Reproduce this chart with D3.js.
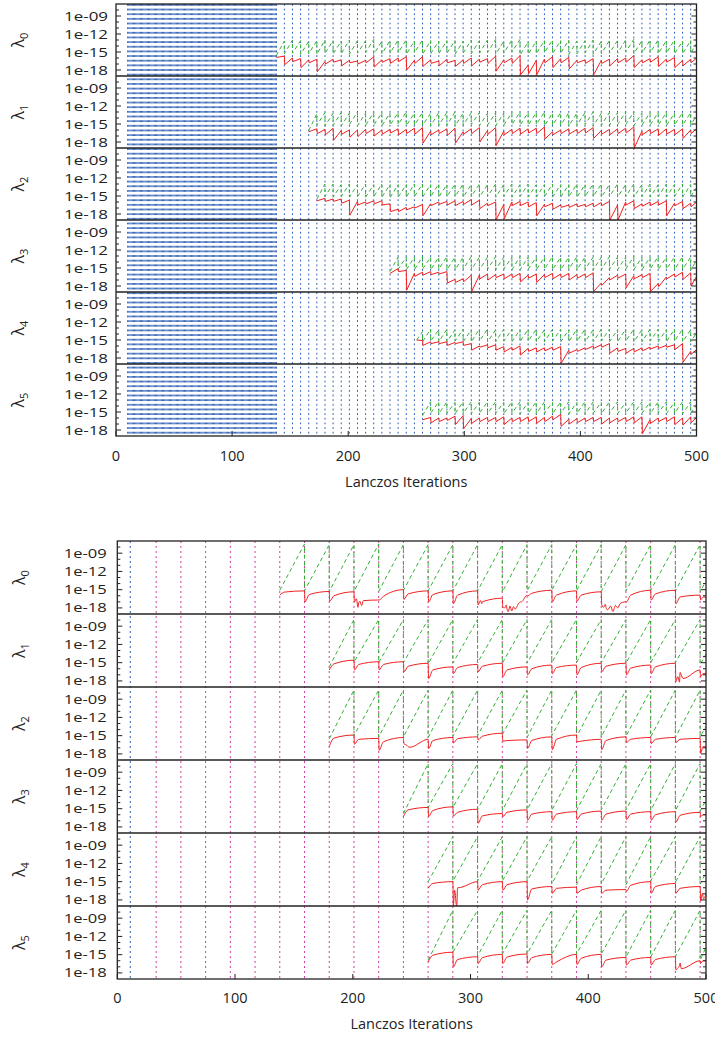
<!DOCTYPE html>
<html><head><meta charset="utf-8">
<script src="https://cdn.jsdelivr.net/npm/d3@7"></script>
<style>body{margin:0;background:#fff}svg{display:block}</style>
</head><body>
<script>
// ---------- data ----------
const panelSubs = ["0","1","2","3","4","5"];
const yTickDecades = [-9,-12,-15,-18];
const yTickLabels = ["1e-09","1e-12","1e-15","1e-18"];
const xTickValues = [0,100,200,300,400,500];
const xTitle = "Lanczos Iterations";

// top group: restart lines every 7 iterations, dense lines every iteration 10..138
const topDenseFrom = 10, topDenseTo = 138;
const topRestarts = [138,145,152,159,166,173,180,187,194,201,208,215,222,229,236,243,250,257,264,271,278,285,292,299,306,313,320,327,334,341,348,355,362,369,376,383,390,397,404,411,418,425,432,439,446,453,460,467,474,481,488,495];
const topStarts = [138,166,173,236,259,264];

// bottom group
const botBlueLines = [11];
const botMagentaLines = [33,54,75,96,117,138,159,180,201,222,243,264,285,306,327,348,369,390,411,432,453,474,495];
const botRestarts = [138,159,180,201,222,243,264,285,306,327,348,369,390,411,432,453,474,495];
const botStarts = [138,180,180,243,264,264];

// top red: per cycle [log10 value after restart, log10 value at end of cycle]
const tRed0 = [[-15.9,-15.7],[-17.1,-16.0],[-16.6,-16.1],[-17.6,-16.3],[-16.8,-16.2],[-18.3,-16.6],[-17.0,-16.2],[-16.7,-16.3],[-17.3,-16.4],[-16.8,-16.5],
[-17.0,-16.4],[-16.8,-15.8],[-17.5,-16.3],[-16.7,-16.1],[-16.9,-16.0],[-16.6,-15.8],[-18.0,-16.4],[-16.9,-15.8],[-17.4,-16.3],[-16.9,-16.5],
[-17.3,-16.2],[-16.8,-16.4],[-17.4,-16.3],[-16.9,-16.0],[-17.3,-16.2],[-16.7,-16.1],[-16.9,-15.7],[-18.2,-16.3],[-16.8,-16.0],[-16.9,-15.6],
[-18.8,-17.2],[-18.6,-16.4],[-18.8,-16.2],[-16.8,-15.8],[-17.6,-16.1],[-16.8,-15.9],[-17.8,-16.4],[-16.8,-16.3],[-16.9,-16.1],[-18.8,-16.4],
[-16.9,-16.2],[-17.3,-16.1],[-16.8,-16.0],[-16.7,-15.6],[-17.6,-16.3],[-16.8,-16.1],[-16.7,-15.8],[-17.4,-16.2],[-16.7,-15.9],[-17.6,-16.4],
[-17.3,-16.2],[-16.8,-16.0]];
const tRed1 = [[-16.3,-15.8],[-16.6,-15.9],[-16.8,-15.7],[-17.7,-16.1],[-16.7,-16.0],[-17.2,-16.0],[-17.1,-15.9],[-16.6,-15.8],[-17.0,-16.0],[-16.7,-15.9],
[-16.5,-15.8],[-16.8,-15.9],[-16.6,-15.7],[-16.7,-15.6],[-18.2,-16.2],[-16.8,-16.0],[-16.6,-15.8],[-16.9,-15.7],[-18.2,-16.3],[-16.7,-15.8],
[-16.6,-15.6],[-18.0,-16.1],[-16.7,-15.6],[-18.6,-16.2],[-16.8,-15.9],[-16.6,-15.7],[-16.7,-15.8],[-16.5,-15.7],[-16.6,-15.5],[-17.5,-16.3],
[-16.8,-16.0],[-16.6,-15.8],[-16.7,-15.9],[-16.6,-15.7],[-16.5,-15.6],[-17.4,-16.1],[-16.7,-15.9],[-16.8,-15.8],[-16.6,-15.7],[-16.5,-15.5],
[-19.0,-16.2],[-16.8,-15.9],[-16.6,-15.8],[-16.9,-15.8],[-16.7,-15.9],[-16.8,-15.8],[-17.4,-16.0],[-16.6,-15.8]];
const tRed2 = [[-15.8,-15.4],[-15.9,-15.5],[-15.9,-15.5],[-16.2,-15.7],[-18.2,-15.9],[-16.5,-16.0],[-16.3,-15.8],[-16.3,-15.8],[-16.5,-16.3],[-17.6,-17.2],
[-17.6,-16.9],[-17.3,-16.8],[-17.0,-16.4],[-18.3,-16.3],[-16.6,-16.0],[-16.4,-15.9],[-16.5,-15.8],[-16.6,-15.9],[-16.4,-15.6],[-16.5,-15.7],
[-17.1,-16.2],[-16.6,-16.0],[-19.0,-16.4],[-18.8,-16.0],[-16.6,-15.9],[-16.6,-16.0],[-16.8,-16.1],[-18.3,-16.4],[-16.8,-16.2],[-17.2,-16.5],
[-16.9,-16.5],[-16.9,-16.3],[-16.8,-16.4],[-16.8,-16.2],[-16.8,-16.1],[-16.6,-15.9],[-19.0,-16.5],[-19.0,-16.0],[-16.5,-15.8],[-17.1,-16.3],
[-16.7,-16.0],[-16.6,-15.9],[-16.5,-15.8],[-18.3,-16.2],[-16.6,-15.9],[-17.1,-16.2],[-16.8,-16.0]];
const tRed3 = [[-15.9,-15.1],[-15.6,-15.4],[-18.7,-15.9],[-16.4,-15.7],[-16.2,-15.6],[-16.1,-15.7],[-16.0,-15.6],[-17.5,-16.9],[-17.4,-16.8],[-17.3,-16.2],
[-18.9,-16.2],[-16.8,-16.0],[-17.0,-16.1],[-16.6,-16.0],[-16.8,-16.0],[-16.6,-15.9],[-17.3,-16.2],[-16.7,-16.0],[-17.4,-16.1],[-16.6,-15.9],
[-16.8,-16.0],[-16.6,-15.9],[-17.0,-16.1],[-16.7,-16.0],[-16.6,-15.8],[-18.9,-17.5],[-17.9,-16.6],[-17.0,-16.2],[-16.7,-16.0],[-18.3,-16.3],
[-16.8,-16.1],[-16.6,-15.9],[-18.9,-17.6],[-18.1,-16.5],[-16.8,-16.0],[-16.5,-15.7],[-16.9,-15.8],[-18.0,-16.4]];
const tRed4 = [[-15.0,-15.1],[-15.9,-15.3],[-15.6,-15.3],[-15.6,-15.3],[-15.9,-15.4],[-15.6,-15.3],[-15.9,-15.6],[-16.7,-16.0],[-16.2,-15.8],[-16.3,-15.8],
[-16.7,-16.1],[-17.0,-16.2],[-16.7,-16.0],[-17.5,-16.4],[-16.9,-16.3],[-17.0,-16.3],[-16.8,-16.2],[-16.7,-16.1],[-18.9,-16.7],[-17.2,-16.6],
[-16.9,-16.3],[-16.6,-16.0],[-16.4,-15.8],[-16.2,-15.6],[-17.2,-16.3],[-16.9,-16.4],[-17.2,-16.4],[-17.0,-16.3],[-16.8,-16.2],[-16.5,-16.0],
[-16.4,-15.9],[-16.2,-15.8],[-16.6,-15.6],[-18.7,-16.9],[-17.4,-16.6]];
const tRed5 = [[-16.3,-15.9],[-16.8,-16.0],[-16.6,-16.0],[-16.4,-15.7],[-17.1,-15.6],[-17.8,-16.1],[-16.9,-16.0],[-16.6,-15.9],[-16.6,-15.9],[-16.6,-15.8],
[-17.1,-16.0],[-16.6,-15.9],[-16.6,-15.8],[-16.6,-15.8],[-16.9,-15.9],[-16.6,-15.7],[-16.3,-15.4],[-17.4,-16.2],[-17.0,-16.1],[-16.8,-16.0],
[-16.6,-15.9],[-16.6,-15.9],[-17.0,-16.0],[-16.8,-16.0],[-16.6,-15.9],[-16.6,-15.8],[-16.8,-15.8],[-18.6,-16.3],[-16.9,-16.0],[-16.6,-15.9],
[-16.6,-15.8],[-17.1,-16.0],[-17.2,-15.8],[-16.8,-15.9]];

// top green: per cycle [log10 at restart, log10 at next restart]
const tGrn0 = [[-15.6,-13.2],[-15.3,-13.0],[-15.2,-13.1],[-15.4,-13.2],[-15.3,-13.1],[-15.4,-13.0],[-15.2,-13.1],[-15.3,-13.2],[-15.3,-13.0],[-15.4,-13.1],
[-15.2,-13.1],[-15.1,-12.9],[-15.4,-13.2],[-15.3,-13.1],[-15.2,-13.0],[-15.1,-13.0],[-15.4,-13.2],[-15.1,-13.0],[-15.4,-13.1],[-15.3,-13.2],
[-15.3,-13.1],[-15.2,-13.1],[-15.4,-13.2],[-15.2,-13.0],[-15.3,-13.1],[-15.2,-13.0],[-15.1,-12.9],[-15.4,-13.2],[-15.2,-13.0],[-15.0,-12.9],
[-15.5,-13.3],[-15.4,-13.2],[-15.3,-13.1],[-15.1,-13.0],[-15.3,-13.1],[-15.2,-13.0],[-15.4,-13.2],[-15.3,-13.1],[-15.2,-13.0],[-15.4,-13.2],
[-15.3,-13.1],[-15.2,-13.1],[-15.2,-13.0],[-15.0,-12.9],[-15.3,-13.1],[-15.2,-13.0],[-15.1,-13.0],[-15.3,-13.1],[-15.2,-13.0],[-15.3,-13.2],
[-15.3,-13.1],[-15.2,-13.6]];
const tGrn1 = [[-16.1,-13.3],[-15.2,-13.1],[-15.3,-13.2],[-15.2,-13.1],[-15.3,-13.2],[-15.1,-13.0],[-15.3,-13.2],[-15.2,-13.1],[-15.2,-13.1],[-15.3,-13.2],
[-15.2,-13.1],[-15.1,-13.0],[-15.3,-13.2],[-15.2,-13.1],[-15.2,-13.2],[-15.3,-13.1],[-15.2,-13.1],[-15.2,-13.0],[-15.3,-13.2],[-15.2,-13.1],
[-15.1,-13.1],[-15.3,-13.2],[-15.2,-13.1],[-15.3,-13.2],[-15.2,-13.1],[-15.1,-13.0],[-15.2,-13.1],[-15.2,-13.1],[-15.1,-13.0],[-15.3,-13.2],
[-15.2,-13.1],[-15.2,-13.1],[-15.3,-13.2],[-15.2,-13.1],[-15.1,-13.0],[-15.3,-13.2],[-15.2,-13.1],[-15.2,-13.1],[-15.1,-13.0],[-15.1,-13.0],
[-15.3,-13.2],[-15.2,-13.1],[-15.2,-13.1],[-15.2,-13.1],[-15.3,-13.2],[-15.2,-13.1],[-15.2,-13.1],[-15.1,-13.7]];
const tGrn2 = [[-15.5,-13.0],[-15.1,-13.0],[-15.2,-13.1],[-15.1,-13.0],[-15.2,-13.1],[-15.1,-13.0],[-15.2,-13.1],[-15.1,-13.0],[-15.2,-13.1],[-15.3,-13.1],
[-15.2,-13.1],[-15.2,-13.0],[-15.1,-13.0],[-15.2,-13.1],[-15.1,-13.0],[-15.2,-13.1],[-15.1,-13.0],[-15.1,-13.0],[-15.2,-13.1],[-15.1,-13.0],
[-15.2,-13.1],[-15.1,-13.0],[-15.2,-13.1],[-15.1,-13.0],[-15.2,-13.1],[-15.1,-13.0],[-15.2,-13.1],[-15.2,-13.1],[-15.1,-13.0],[-15.2,-13.1],
[-15.2,-13.1],[-15.1,-13.0],[-15.2,-13.1],[-15.1,-13.0],[-15.1,-13.0],[-15.2,-13.1],[-15.1,-13.0],[-15.2,-13.1],[-15.1,-13.0],[-15.2,-13.1],
[-15.1,-13.0],[-15.2,-13.1],[-15.1,-13.0],[-15.2,-13.1],[-15.1,-13.0],[-15.2,-13.1],[-15.1,-13.6]];
const tGrn3 = [[-15.6,-13.2],[-15.2,-13.2],[-15.3,-13.2],[-15.3,-13.1],[-15.2,-13.2],[-15.3,-13.2],[-15.2,-13.1],[-15.3,-13.2],[-15.3,-13.2],[-15.2,-13.1],
[-15.3,-13.2],[-15.3,-13.2],[-15.2,-13.1],[-15.3,-13.2],[-15.2,-13.2],[-15.3,-13.1],[-15.3,-13.2],[-15.2,-13.2],[-15.3,-13.2],[-15.2,-13.1],
[-15.3,-13.2],[-15.3,-13.2],[-15.2,-13.1],[-15.3,-13.2],[-15.2,-13.2],[-15.3,-13.2],[-15.3,-13.1],[-15.2,-13.2],[-15.3,-13.2],[-15.2,-13.1],
[-15.3,-13.2],[-15.3,-13.2],[-15.2,-13.1],[-15.3,-13.2],[-15.2,-13.2],[-15.3,-13.1],[-15.2,-13.2],[-15.3,-13.8]];
const tGrn4 = [[-15.0,-13.6],[-15.3,-13.2],[-15.2,-13.3],[-15.3,-13.2],[-15.3,-13.3],[-15.2,-13.2],[-15.3,-13.3],[-15.3,-13.2],[-15.2,-13.2],[-15.3,-13.3],
[-15.3,-13.2],[-15.2,-13.2],[-15.3,-13.3],[-15.3,-13.2],[-15.2,-13.2],[-15.3,-13.3],[-15.3,-13.2],[-15.2,-13.2],[-15.3,-13.3],[-15.3,-13.2],
[-15.2,-13.2],[-15.3,-13.3],[-15.3,-13.2],[-15.2,-13.2],[-15.3,-13.3],[-15.3,-13.2],[-15.2,-13.2],[-15.3,-13.3],[-15.3,-13.2],[-15.2,-13.2],
[-15.3,-13.3],[-15.3,-13.2],[-15.2,-13.2],[-15.3,-13.3],[-15.3,-13.8]];
const tGrn5 = [[-15.6,-13.3],[-15.2,-13.3],[-15.3,-13.3],[-15.2,-13.4],[-15.3,-13.3],[-15.2,-13.3],[-15.3,-13.4],[-15.2,-13.3],[-15.3,-13.3],[-15.2,-13.4],
[-15.3,-13.3],[-15.2,-13.3],[-15.3,-13.4],[-15.2,-13.3],[-15.3,-13.3],[-15.2,-13.4],[-15.3,-13.3],[-15.2,-13.3],[-15.3,-13.4],[-15.2,-13.3],
[-15.3,-13.3],[-15.2,-13.4],[-15.3,-13.3],[-15.2,-13.3],[-15.3,-13.4],[-15.2,-13.3],[-15.3,-13.3],[-15.2,-13.4],[-15.3,-13.3],[-15.2,-13.3],
[-15.3,-13.4],[-15.2,-13.3],[-15.3,-13.3],[-15.2,-13.9]];

// bottom red: per cycle [after restart, 4 iterations later, end of cycle] (log10)
const bRed0 = [[-15.9,-15.4,-15.2],[-17.0,-15.8,-15.3],[-16.9,-16.0,-15.35],[-17.0,-17.2,-16.7],[-16.7,-16.1,-15.0],[-16.6,-15.7,-15.2],[-17.0,-15.8,-15.2],[-17.3,-15.9,-15.2],[-17.5,-17.0,-16.4],[-17.9,-18.2,-15.9],[-16.0,-15.6,-15.1],[-17.0,-15.9,-15.2],[-16.9,-15.9,-15.35],[-17.5,-17.9,-17.0],[-17.0,-15.9,-15.1],[-16.7,-15.7,-15.1],[-17.3,-16.2,-15.9],[-16.7,-16.2,-16.2]];
const bRed1 = [[-16.2,-15.2,-14.6],[-16.2,-15.3,-14.85],[-16.2,-15.3,-14.85],[-16.5,-15.6,-15.1],[-17.6,-16.2,-15.7],[-16.8,-15.8,-15.3],[-16.5,-15.6,-15.1],[-17.3,-16.2,-15.7],[-17.0,-16.0,-15.4],[-16.8,-15.8,-15.4],[-17.0,-15.8,-15.1],[-16.5,-15.6,-15.1],[-17.0,-15.9,-15.4],[-16.8,-15.7,-15.1],[-18.1,-16.6,-16.2],[-17.3,-16.8,-16.8]];
const bRed2 = [[-16.8,-15.4,-14.9],[-16.4,-15.6,-15.45],[-17.4,-16.0,-15.3],[-16.3,-16.8,-15.6],[-17.1,-15.8,-15.3],[-16.2,-15.5,-15.2],[-15.7,-15.1,-14.6],[-15.9,-15.8,-15.7],[-17.1,-15.8,-15.2],[-17.3,-15.6,-14.9],[-16.0,-15.9,-15.6],[-17.3,-15.8,-15.2],[-16.1,-15.6,-15.3],[-16.3,-15.6,-15.3],[-16.1,-15.6,-15.45],[-17.9,-16.8,-16.8]];
const bRed3 = [[-16.3,-15.2,-14.8],[-16.3,-15.3,-14.7],[-16.2,-15.6,-15.1],[-17.4,-16.2,-15.8],[-16.3,-15.6,-15.2],[-16.9,-15.9,-15.5],[-16.9,-15.9,-15.5],[-16.8,-15.9,-15.4],[-16.9,-15.9,-15.4],[-16.8,-15.9,-15.5],[-16.9,-16.0,-15.5],[-17.2,-16.1,-15.6],[-16.3,-16.0,-16.0]];
const bRed4 = [[-16.1,-15.3,-15.0],[-19.0,-16.0,-15.0],[-16.4,-15.5,-15.0],[-16.4,-15.5,-15.0],[-18.0,-16.2,-15.8],[-16.9,-16.1,-15.9],[-16.9,-16.4,-15.8],[-16.9,-16.4,-16.3],[-16.6,-15.6,-15.0],[-16.9,-15.8,-15.3],[-16.9,-16.1,-15.8],[-18.2,-17.5,-17.0]];
const bRed5 = [[-16.2,-15.1,-14.6],[-17.0,-15.8,-15.35],[-16.45,-15.5,-14.96],[-16.45,-15.4,-14.9],[-16.45,-15.5,-14.96],[-16.6,-16.2,-14.96],[-16.6,-15.6,-14.96],[-17.0,-15.9,-15.46],[-16.7,-15.9,-15.46],[-16.7,-15.8,-15.35],[-17.5,-16.4,-16.0],[-16.45,-16.0,-16.0]];
// bottom red: extra jagged points [iteration, log10]
const bNoise0 = [[203,-16.5],[204.5,-17.9],[206,-16.9],[207.5,-17.6],[209,-16.8],[308.5,-16.8],[309.5,-17.3],[311.5,-16.9],[329,-18.0],[330.5,-17.5],[332,-18.6],[333.5,-17.7],[335,-18.5],[336.5,-17.8],[338,-18.2],[341,-17.2],[344,-16.9],[413,-17.9],[414.5,-17.4],[416.5,-18.3],[419,-17.7],[421,-18.6],[423,-17.6],[425,-18.0],[427,-17.3],[429,-17.1]];
const bNoise1 = [[476,-17.3],[477.5,-18.2],[479,-17.0],[480.5,-17.6]];
const bNoise2 = [[246,-16.6],[248.5,-16.9]];
const bNoise3 = [];
const bNoise4 = [[286.5,-16.4],[288.3,-19.2],[289.5,-16.0],[496,-17.7],[497,-16.9],[498,-17.8]];
const bNoise5 = [[476,-17.2],[477.5,-16.8],[479,-17.3]];

// bottom green: per cycle [at restart, at next restart]
const bGrn0 = [[-15.1,-7.5],[-15.2,-7.6],[-15.3,-7.6],[-15.3,-7.5],[-15.3,-7.6],[-15.1,-7.6],[-15.2,-7.6],[-15.2,-7.6],[-15.2,-7.6],[-15.4,-7.6],[-15.2,-7.6],[-15.1,-7.6],[-15.2,-7.6],[-15.3,-7.6],[-15.2,-7.6],[-15.1,-7.6],[-15.2,-7.6],[-15.3,-13.6]];
const bGrn1 = [[-15.7,-7.9],[-14.9,-7.9],[-15.0,-7.9],[-15.0,-7.9],[-15.2,-7.9],[-15.1,-7.9],[-15.0,-7.9],[-15.1,-7.9],[-15.1,-7.9],[-15.0,-7.9],[-15.0,-7.9],[-15.0,-7.9],[-15.1,-7.9],[-15.0,-7.9],[-15.0,-7.9],[-15.3,-13.6]];
const bGrn2 = [[-15.5,-7.5],[-15.0,-7.5],[-15.2,-7.5],[-15.2,-7.5],[-15.3,-7.5],[-15.1,-7.5],[-15.0,-7.5],[-14.8,-7.5],[-15.3,-7.5],[-15.0,-7.5],[-15.2,-7.5],[-15.2,-7.5],[-15.1,-7.5],[-15.2,-7.5],[-15.3,-7.5],[-15.2,-13.5]];
const bGrn3 = [[-15.8,-7.6],[-14.8,-7.6],[-14.8,-7.6],[-15.1,-7.6],[-15.3,-7.6],[-15.2,-7.6],[-15.3,-7.6],[-15.3,-7.6],[-15.2,-7.6],[-15.2,-7.6],[-15.3,-7.6],[-15.3,-7.6],[-15.4,-13.6]];
const bGrn4 = [[-15.0,-7.6],[-14.9,-7.6],[-14.9,-7.6],[-14.9,-7.6],[-14.9,-7.6],[-15.4,-7.6],[-15.5,-7.6],[-15.4,-7.6],[-15.5,-7.6],[-14.9,-7.6],[-15.1,-7.6],[-15.4,-13.5]];
const bGrn5 = [[-15.9,-7.7],[-14.6,-7.7],[-15.2,-7.7],[-14.9,-7.7],[-14.9,-7.7],[-14.9,-7.7],[-14.9,-7.7],[-14.9,-7.7],[-15.4,-7.7],[-15.4,-7.7],[-15.3,-7.7],[-15.9,-13.8]];

// ---------- drawing ----------
const W = 715, H = 1038;
const FONT = "'Open Sans','Noto Sans',sans-serif";
const BLUE = "#2c5fb5", MAGENTA = "#d2409e", GREEN = "#35b035", RED = "#ee2020", INK = "#222";
const svg = d3.select("body").append("svg").attr("width", W).attr("height", H);

function drawGroup(cfg) {
  const x = d3.scaleLinear().domain([0, 500]).range([cfg.left, cfg.right]);
  const gTop = cfg.top, gBot = cfg.top + 6 * cfg.ph;
  const g = svg.append("g");

  cfg.vlines.forEach(vl => {
    g.append("g").selectAll("line").data(vl.values).join("line")
      .attr("x1", d => x(d)).attr("x2", d => x(d))
      .attr("y1", gTop).attr("y2", gBot)
      .attr("stroke", vl.color).attr("stroke-width", 1)
      .attr("stroke-dasharray", vl.dash);
  });

  for (let p = 0; p < 6; p++) {
    const pt = gTop + p * cfg.ph;
    const y = d3.scaleLog().domain([1e-19, 1e-7]).range([pt + cfg.ph, pt]);
    const clipId = cfg.id + "clip" + p;
    svg.append("clipPath").attr("id", clipId).append("rect")
      .attr("x", cfg.left).attr("y", pt).attr("width", cfg.right - cfg.left).attr("height", cfg.ph);
    const pg = g.append("g").attr("clip-path", `url(#${clipId})`);
    const start = cfg.starts[p];
    const b = [start].concat(cfg.restarts.filter(r => r > start)).concat([500]);
    const line = d3.line().x(d => x(d[0])).y(d => y(Math.pow(10, d[1])));

    const gp = [];
    cfg.green[p].forEach((c, i) => { gp.push([b[i], c[0]]); gp.push([b[i + 1], c[1]]); });
    pg.append("path").attr("d", line(gp)).attr("fill", "none")
      .attr("stroke", GREEN).attr("stroke-width", 1).attr("stroke-dasharray", "4,3");

    let rp = [];
    cfg.red[p].forEach((c, i) => {
      const x0 = i === 0 ? b[0] : b[i] + 0.4;
      if (c.length === 2) {
        rp.push([x0, c[0]]); rp.push([b[i + 1], c[1]]);
      } else {
        rp.push([x0, c[0]]);
        rp.push([b[i] + Math.min(4, (b[i + 1] - b[i]) / 2), c[1]]);
        rp.push([b[i + 1], c[2]]);
      }
    });
    if (cfg.noise) rp = rp.concat(cfg.noise[p]);
    rp.sort((a, b2) => a[0] - b2[0]);
    const rline = cfg.curve ? line.curve(cfg.curve) : line;
    pg.append("path").attr("d", rline(rp)).attr("fill", "none")
      .attr("stroke", RED).attr("stroke-width", 1);

    // y ticks (every decade), left and right, inward
    for (let d = -18; d <= -8; d++) {
      const yy = y(Math.pow(10, d));
      const len = yTickDecades.includes(d) ? 5 : 3;
      g.append("line").attr("x1", cfg.left).attr("x2", cfg.left + len).attr("y1", yy).attr("y2", yy)
        .attr("stroke", INK).attr("stroke-width", 1);
      g.append("line").attr("x1", cfg.right - len).attr("x2", cfg.right).attr("y1", yy).attr("y2", yy)
        .attr("stroke", INK).attr("stroke-width", 1);
    }
    yTickDecades.forEach((d, i) => {
      g.append("text").attr("x", cfg.left - cfg.ylabGap).attr("y", y(Math.pow(10, d)))
        .attr("dy", "0.36em").attr("text-anchor", "end")
        .attr("font-family", FONT).attr("font-size", 12.5).attr("fill", INK)
        .attr("textLength", cfg.ylabW).attr("lengthAdjust", "spacingAndGlyphs")
        .text(yTickLabels[i]);
    });
    const lt = g.append("text")
      .attr("transform", `translate(${cfg.lamX},${pt + cfg.ph / 2}) rotate(-90)`)
      .attr("text-anchor", "middle").attr("font-family", FONT).attr("fill", INK);
    lt.append("tspan").attr("font-size", 16).text("λ");
    lt.append("tspan").attr("font-size", 11).attr("dy", 4).text(panelSubs[p]);

    if (p > 0) {
      g.append("line").attr("x1", cfg.left).attr("x2", cfg.right).attr("y1", pt).attr("y2", pt)
        .attr("stroke", INK).attr("stroke-width", 1.6);
    }
  }

  g.append("rect").attr("x", cfg.left).attr("y", gTop).attr("width", cfg.right - cfg.left)
    .attr("height", gBot - gTop).attr("fill", "none").attr("stroke", INK).attr("stroke-width", 1.3);

  xTickValues.forEach(v => {
    g.append("line").attr("x1", x(v)).attr("x2", x(v)).attr("y1", gBot).attr("y2", gBot - 5)
      .attr("stroke", INK).attr("stroke-width", 1);
    g.append("text").attr("x", x(v)).attr("y", cfg.xlabY).attr("text-anchor", "middle")
      .attr("font-family", FONT).attr("font-size", 14.5).attr("fill", INK).text(String(v));
  });
  g.append("text").attr("x", (cfg.left + cfg.right) / 2).attr("y", cfg.titleY)
    .attr("text-anchor", "middle").attr("font-family", FONT).attr("font-size", 14.5)
    .attr("fill", INK).text(xTitle);
}

drawGroup({
  id: "top", left: 116, right: 696.5, top: 4, ph: 72,
  vlines: [
    { values: d3.range(topDenseFrom, topDenseTo + 1), color: BLUE, dash: "1.8,2.85" },
    { values: topRestarts, color: BLUE, dash: "1.8,2.85" }
  ],
  restarts: topRestarts, starts: topStarts,
  red: [tRed0, tRed1, tRed2, tRed3, tRed4, tRed5],
  green: [tGrn0, tGrn1, tGrn2, tGrn3, tGrn4, tGrn5],
  ylabGap: 8, ylabW: 44, lamX: 24, xlabY: 461, titleY: 487
});

drawGroup({
  id: "bot", left: 117.3, right: 706, top: 541, ph: 73,
  vlines: [
    { values: botMagentaLines, color: MAGENTA, dash: "2,3" },
    { values: botBlueLines, color: BLUE, dash: "2,3" }
  ],
  restarts: botRestarts, starts: botStarts,
  red: [bRed0, bRed1, bRed2, bRed3, bRed4, bRed5],
  noise: [bNoise0, bNoise1, bNoise2, bNoise3, bNoise4, bNoise5],
  curve: d3.curveMonotoneX,
  green: [bGrn0, bGrn1, bGrn2, bGrn3, bGrn4, bGrn5],
  ylabGap: 10.5, ylabW: 43, lamX: 25, xlabY: 1003, titleY: 1029
});
</script>
</body></html>
